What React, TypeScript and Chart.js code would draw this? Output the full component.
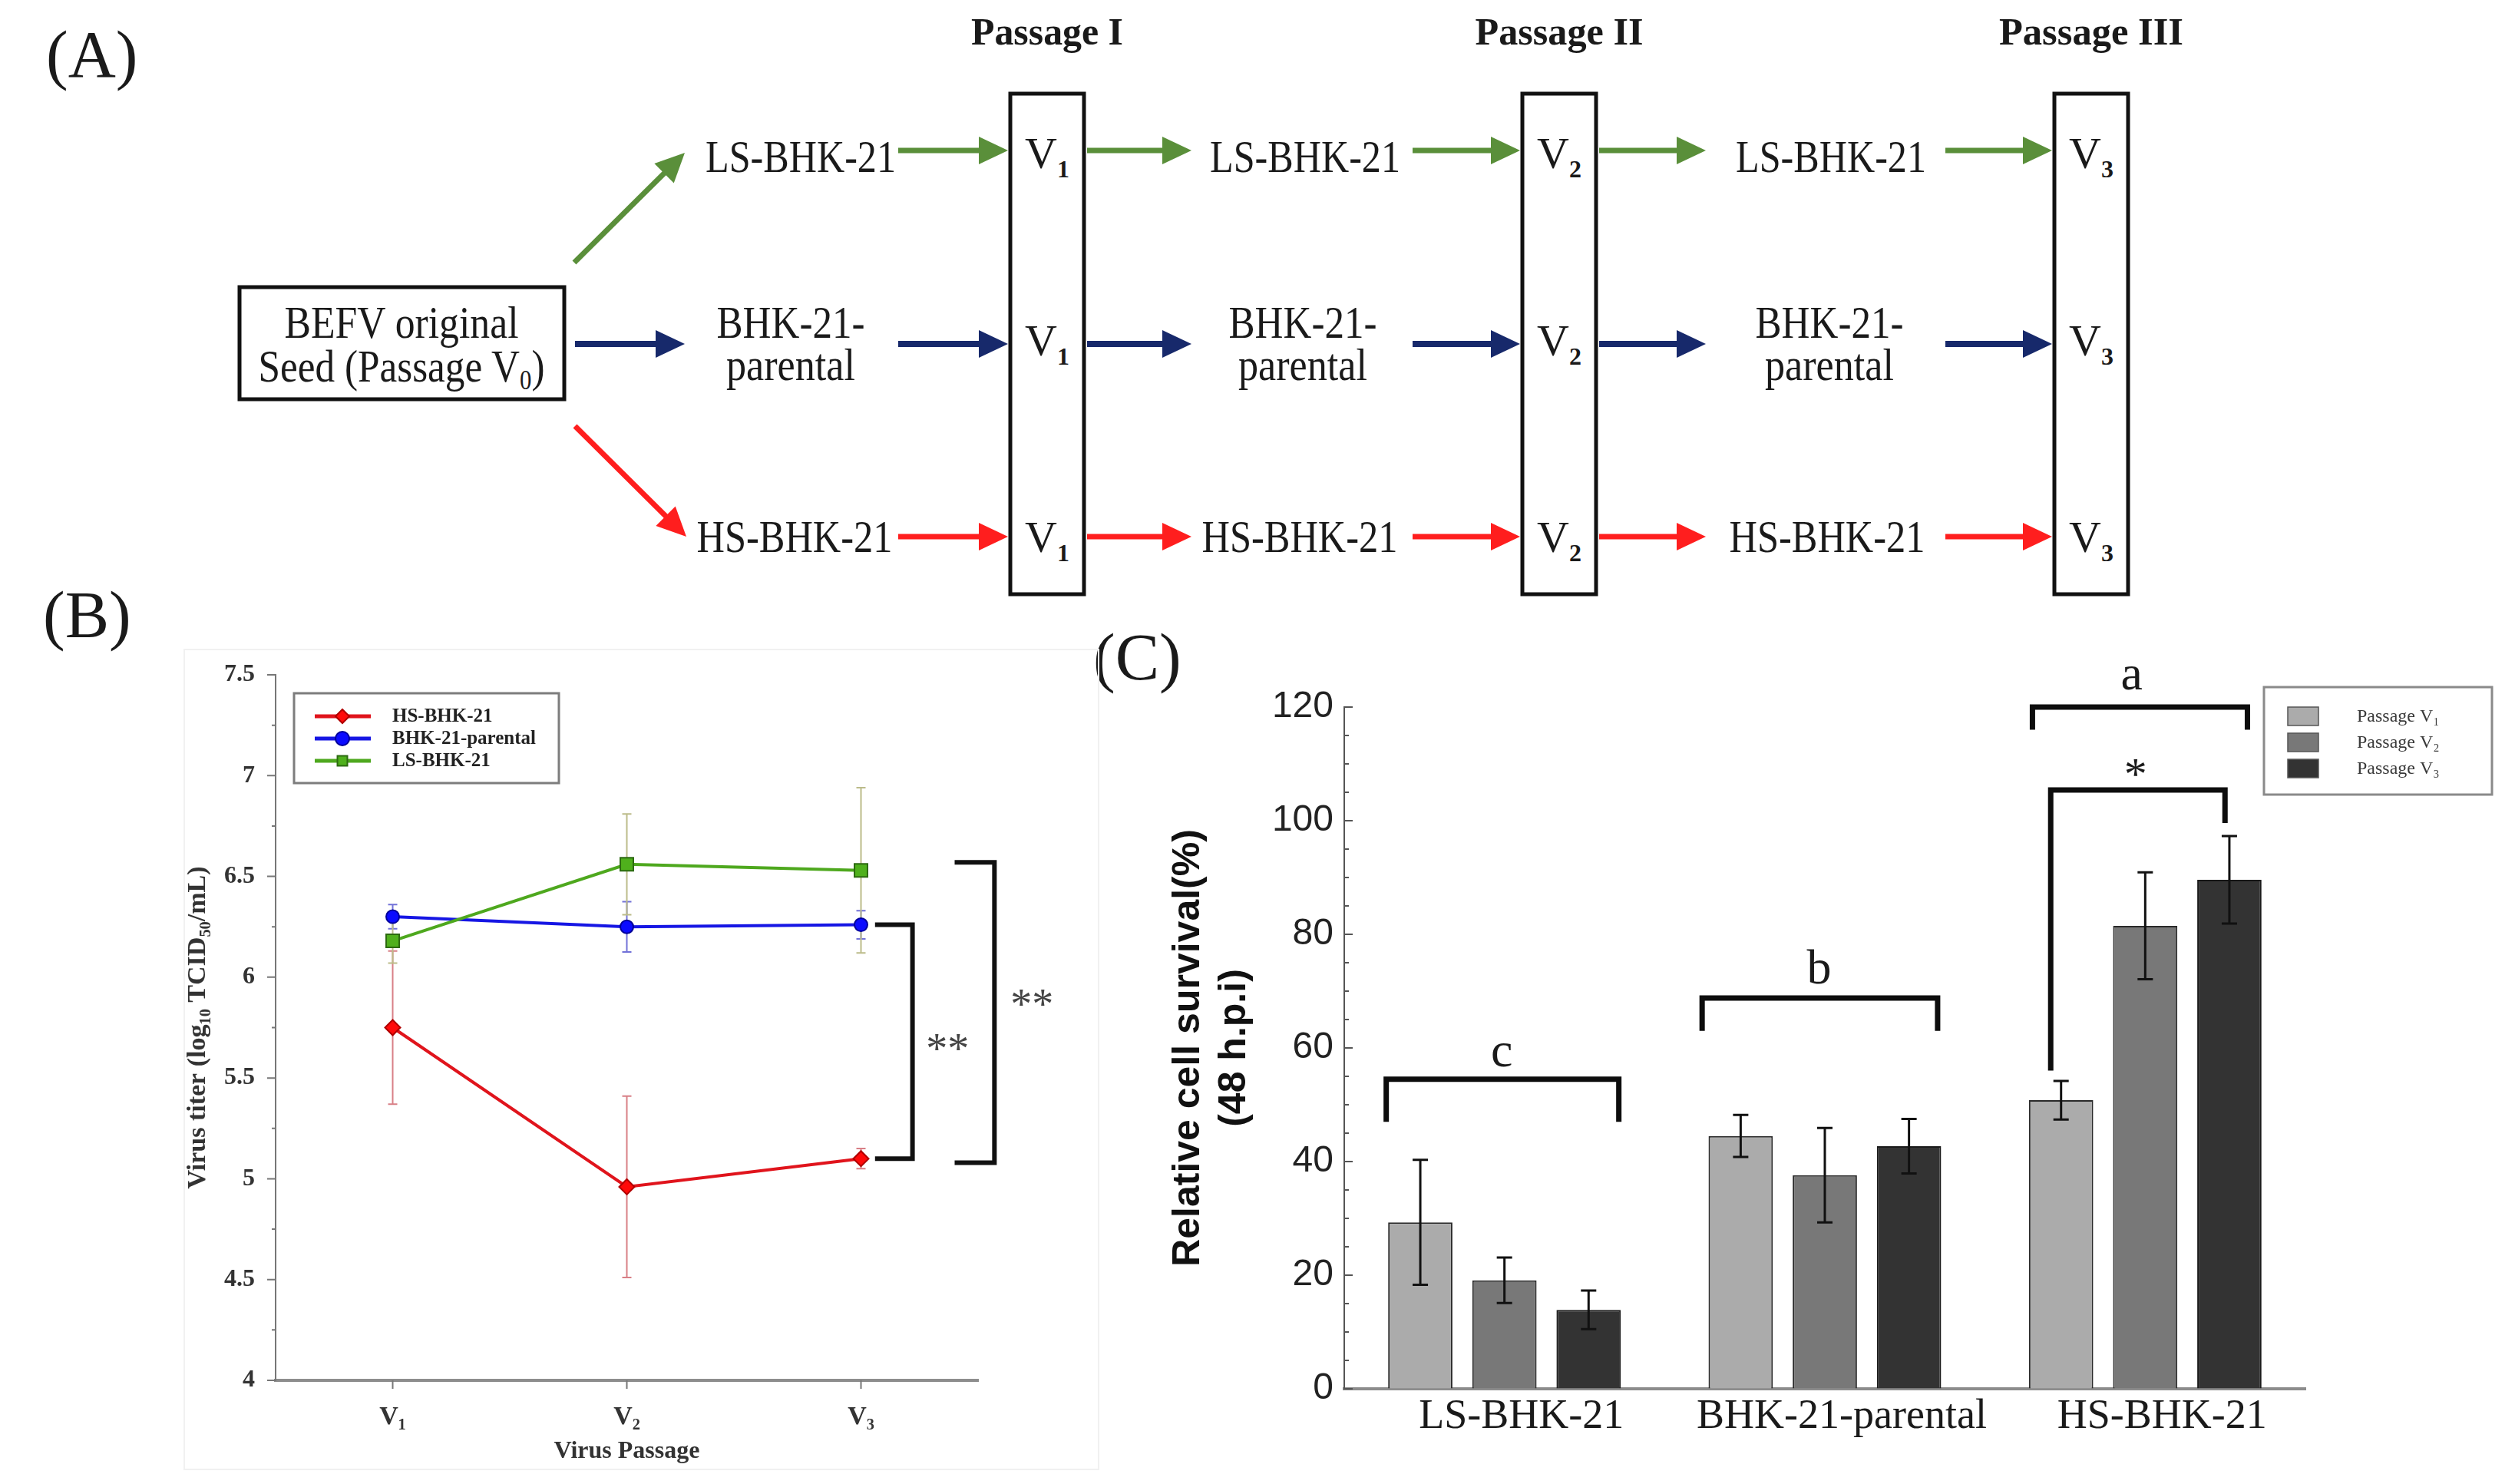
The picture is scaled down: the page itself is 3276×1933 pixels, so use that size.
import React, { useEffect, useRef } from 'react';
import { Chart, registerables } from 'chart.js';

Chart.register(...registerables);

const SERIF = '"Liberation Serif", "Times New Roman", Times, serif';
const SANS = '"Liberation Sans", Arial, Helvetica, sans-serif';

// ---------- Panel B data (virus titer, log10 TCID50/mL) ----------
const passageLabels = ['V₁', 'V₂', 'V₃'];
const titerSeriesNames = ['HS-BHK-21', 'BHK-21-parental', 'LS-BHK-21'];
const hsTiter = [5.75, 4.96, 5.1];
const hsTiterErr = [0.38, 0.45, 0.05];
const parentalTiter = [6.3, 6.25, 6.26];
const parentalTiterErr = [0.06, 0.125, 0.07];
const lsTiter = [6.18, 6.56, 6.53];
const lsTiterErr = [0.11, 0.25, 0.41];
const titerMajorTicks = [4, 4.5, 5, 5.5, 6, 6.5, 7, 7.5];

// ---------- Panel C data (relative cell survival %, 48 h.p.i) ----------
const cellLines = ['LS-BHK-21', 'BHK-21-parental', 'HS-BHK-21'];
const passageSeriesNames = ['Passage V₁', 'Passage V₂', 'Passage V₃'];
const survivalV1 = [29.3, 44.5, 50.8];
const survivalV1Err = [11.0, 3.7, 3.4];
const survivalV2 = [19.1, 37.6, 81.5];
const survivalV2Err = [4.0, 8.3, 9.4];
const survivalV3 = [13.9, 42.7, 89.6];
const survivalV3Err = [3.4, 4.8, 7.7];
const survivalMajorTicks = [0, 20, 40, 60, 80, 100, 120];

// ---------- Panel A diagram ----------
const GREEN = '#5a8f3a';
const NAVY = '#17296b';
const RED = '#ff1e1e';

function Arrow({ x1, y1, x2, y2, color, w = 7 }: any) {
  const dx = x2 - x1, dy = y2 - y1;
  const len = Math.hypot(dx, dy);
  const ux = dx / len, uy = dy / len;
  const hl = 38, hw = 18;
  const bx = x2 - ux * hl, by = y2 - uy * hl;
  const px = -uy, py = ux;
  return (
    <g>
      <line x1={x1} y1={y1} x2={bx + ux * 3} y2={by + uy * 3} stroke={color} strokeWidth={w} />
      <polygon
        points={`${x2},${y2} ${bx + px * hw},${by + py * hw} ${bx - px * hw},${by - py * hw}`}
        fill={color}
      />
    </g>
  );
}

function T({ x, y, len, size = 60, bold = false, children }: any) {
  return (
    <text
      x={x}
      y={y}
      fontFamily={SERIF}
      fontSize={size}
      fontWeight={bold ? 'bold' : 'normal'}
      textAnchor="middle"
      fill="#1a1a1a"
      {...(len ? { textLength: len, lengthAdjust: 'spacingAndGlyphs' } : {})}
    >
      {children}
    </text>
  );
}

function VLabel({ cx, y, n }: any) {
  return (
    <text x={cx} y={y} fontFamily={SERIF} fontSize={58} textAnchor="middle" fill="#1a1a1a">
      V<tspan fontSize={32} fontWeight="bold" dy={12}>{n}</tspan>
    </text>
  );
}

function Diagram() {
  const rows = [196, 448, 699];
  const boxes = [1316, 1983, 2676];
  const vBase = [219, 463, 719];
  const colors = [GREEN, NAVY, RED];
  return (
    <svg
      width={3276}
      height={1933}
      style={{ position: 'absolute', left: 0, top: 0 }}
      xmlns="http://www.w3.org/2000/svg"
    >
      <text x={60} y={100} fontFamily={SERIF} fontSize={86} fill="#1a1a1a">(A)</text>
      <text x={56} y={830} fontFamily={SERIF} fontSize={86} fill="#1a1a1a">(B)</text>
      <text x={1424} y={885} fontFamily={SERIF} fontSize={86} fill="#1a1a1a">(C)</text>

      <rect x={240} y={846} width={1191} height={1068} fill="none" stroke="#f1f1f1" strokeWidth={2} />

      <T x={1364} y={58} len={198} size={50} bold>Passage I</T>
      <T x={2031} y={58} len={219} size={50} bold>Passage II</T>
      <T x={2724} y={58} len={240} size={50} bold>Passage III</T>

      {boxes.map((bx, i) => (
        <rect key={i} x={bx} y={122} width={96} height={652} fill="none" stroke="#111" strokeWidth={5} />
      ))}
      {boxes.map((bx, i) =>
        vBase.map((vy, j) => <VLabel key={`${i}-${j}`} cx={bx + 48} y={vy} n={i + 1} />)
      )}

      <rect x={312} y={374} width={423} height={146} fill="none" stroke="#111" strokeWidth={5} />
      <T x={523} y={440} len={305}>BEFV original</T>
      <text x={523} y={497} fontFamily={SERIF} fontSize={60} textAnchor="middle" fill="#1a1a1a"
        textLength={373} lengthAdjust="spacingAndGlyphs">
        Seed (Passage V<tspan fontSize={36} dy={10}>0</tspan><tspan dy={-10}>)</tspan>
      </text>

      <Arrow x1={748} y1={342} x2={892} y2={199} color={GREEN} />
      <Arrow x1={749} y1={448} x2={892} y2={448} color={NAVY} w={8} />
      <Arrow x1={749} y1={555} x2={894} y2={699} color={RED} />

      {[
        [1043, 1030, 1035],
        [1700, 1697, 1693],
        [2385, 2383, 2380],
      ].map((c, i) => (
        <g key={i}>
          <T x={c[0]} y={224} len={248}>LS-BHK-21</T>
          <T x={c[1]} y={440} len={193}>BHK-21-</T>
          <T x={c[1]} y={495} len={168}>parental</T>
          <T x={c[2]} y={719} len={255}>HS-BHK-21</T>
        </g>
      ))}

      {rows.map((ry, j) => (
        <g key={j}>
          <Arrow x1={1170} y1={ry} x2={1313} y2={ry} color={colors[j]} w={j === 1 ? 8 : 7} />
          <Arrow x1={1416} y1={ry} x2={1552} y2={ry} color={colors[j]} w={j === 1 ? 8 : 7} />
          <Arrow x1={1840} y1={ry} x2={1980} y2={ry} color={colors[j]} w={j === 1 ? 8 : 7} />
          <Arrow x1={2083} y1={ry} x2={2222} y2={ry} color={colors[j]} w={j === 1 ? 8 : 7} />
          <Arrow x1={2534} y1={ry} x2={2673} y2={ry} color={colors[j]} w={j === 1 ? 8 : 7} />
        </g>
      ))}
    </svg>
  );
}

// ---------- helpers ----------
function drawMarker(ctx: CanvasRenderingContext2D, style: string, x: number, y: number, r: number, fill: string, stroke: string) {
  ctx.beginPath();
  if (style === 'rectRot') {
    ctx.moveTo(x, y - r); ctx.lineTo(x + r, y); ctx.lineTo(x, y + r); ctx.lineTo(x - r, y); ctx.closePath();
  } else if (style === 'rect') {
    const s = r * 0.72;
    ctx.rect(x - s, y - s, 2 * s, 2 * s);
  } else {
    ctx.arc(x, y, r, 0, Math.PI * 2);
  }
  ctx.fillStyle = fill; ctx.fill();
  ctx.strokeStyle = stroke; ctx.lineWidth = 2; ctx.stroke();
}

// ---------- Panel B ----------
function PanelB() {
  const ref = useRef<HTMLCanvasElement>(null);
  useEffect(() => {
    const canvas = ref.current!;
    const errorBars = {
      id: 'errorBarsB',
      beforeDatasetsDraw(chart: any) {
        const { ctx } = chart;
        const y = chart.scales.y;
        chart.data.datasets.forEach((ds: any, i: number) => {
          const meta = chart.getDatasetMeta(i);
          meta.data.forEach((pt: any, j: number) => {
            const v = ds.data[j], e = ds.errs[j];
            const t = y.getPixelForValue(v + e), b = y.getPixelForValue(v - e);
            ctx.save();
            ctx.strokeStyle = ds.errColor; ctx.lineWidth = 2;
            ctx.beginPath();
            ctx.moveTo(pt.x, t); ctx.lineTo(pt.x, b);
            ctx.moveTo(pt.x - 6, t); ctx.lineTo(pt.x + 6, t);
            ctx.moveTo(pt.x - 6, b); ctx.lineTo(pt.x + 6, b);
            ctx.stroke();
            ctx.restore();
          });
        });
      },
    };
    const decorations = {
      id: 'decorB',
      afterDraw(chart: any) {
        const { ctx, chartArea: ca } = chart;
        const x = chart.scales.x, y = chart.scales.y;
        ctx.save();
        // axis ticks
        ctx.strokeStyle = '#777'; ctx.lineWidth = 2;
        ctx.beginPath();
        for (let v = titerMajorTicks[0]; v <= titerMajorTicks[titerMajorTicks.length - 1] + 1e-6; v += 0.25) {
          const py = y.getPixelForValue(v);
          const major = titerMajorTicks.some((m) => Math.abs(m - v) < 1e-6);
          ctx.moveTo(y.right, py); ctx.lineTo(y.right - (major ? 11 : 5), py);
        }
        passageLabels.forEach((_, i) => {
          const px = x.getPixelForValue(i);
          ctx.moveTo(px, x.top); ctx.lineTo(px, x.top + 11);
        });
        ctx.stroke();

        // significance brackets
        ctx.strokeStyle = '#111'; ctx.lineWidth = 6; ctx.lineJoin = 'miter';
        const bracket = (x0: number, x1: number, yt: number, yb: number) => {
          const X0 = x.getPixelForValue(x0), X1 = x.getPixelForValue(x1);
          const T0 = y.getPixelForValue(yt), B0 = y.getPixelForValue(yb);
          ctx.beginPath(); ctx.moveTo(X0, T0); ctx.lineTo(X1, T0); ctx.lineTo(X1, B0); ctx.lineTo(X0, B0); ctx.stroke();
        };
        bracket(2.06, 2.22, parentalTiter[2], hsTiter[2]);
        bracket(2.40, 2.57, 6.57, 5.08);
        ctx.fillStyle = '#444'; ctx.font = `56px ${SERIF}`; ctx.textAlign = 'center'; ctx.textBaseline = 'alphabetic';
        ctx.fillText('**', x.getPixelForValue(2.37), y.getPixelForValue(5.69) + 31);
        ctx.fillText('**', x.getPixelForValue(2.73), y.getPixelForValue(5.91) + 31);

        // legend
        const lx = ca.left + 24, ly = ca.top + 24, lw = 345, lh = 117;
        ctx.strokeStyle = '#7d7d7d'; ctx.lineWidth = 3;
        ctx.strokeRect(lx, ly, lw, lh);
        chart.data.datasets.forEach((ds: any, i: number) => {
          const ry = ly + 30 + i * 29;
          ctx.strokeStyle = ds.borderColor; ctx.lineWidth = 5;
          ctx.beginPath(); ctx.moveTo(lx + 27, ry); ctx.lineTo(lx + 100, ry); ctx.stroke();
          drawMarker(ctx, ds.pointStyle, lx + 63, ry, 9, ds.pointBackgroundColor, ds.pointBorderColor);
          ctx.fillStyle = '#222'; ctx.font = `bold 25px ${SERIF}`; ctx.textAlign = 'left'; ctx.textBaseline = 'middle';
          ctx.fillText(ds.label, lx + 128, ry + 1);
        });
        ctx.restore();
      },
    };
    const chart = new Chart(canvas, {
      type: 'line',
      data: {
        labels: passageLabels,
        datasets: [
          {
            label: titerSeriesNames[0], data: hsTiter, errs: hsTiterErr, errColor: 'rgba(214,120,128,0.95)',
            borderColor: '#e0141c', borderWidth: 4, pointStyle: 'rectRot', pointRadius: 10,
            pointBackgroundColor: '#ff0a0a', pointBorderColor: '#b00000', pointBorderWidth: 2, order: 1,
          },
          {
            label: titerSeriesNames[1], data: parentalTiter, errs: parentalTiterErr, errColor: '#7272d8',
            borderColor: '#1616e4', borderWidth: 4, pointStyle: 'circle', pointRadius: 8.5,
            pointBackgroundColor: '#0b0bff', pointBorderColor: '#00009a', pointBorderWidth: 2, order: 2,
          },
          {
            label: titerSeriesNames[2], data: lsTiter, errs: lsTiterErr, errColor: '#bcbc8a',
            borderColor: '#4ea81e', borderWidth: 4, pointStyle: 'rect', pointRadius: 12,
            pointBackgroundColor: '#4fb01c', pointBorderColor: '#2c6a10', pointBorderWidth: 2, order: 0,
          },
        ] as any,
      },
      options: {
        responsive: false,
        animation: false,
        events: [],
        layout: { padding: { top: 59, right: 176, left: 0, bottom: 0 } },
        plugins: { legend: { display: false }, tooltip: { enabled: false } },
        elements: { line: { tension: 0 } },
        scales: {
          x: {
            type: 'category',
            offset: true,
            grid: { display: true, drawOnChartArea: false, drawTicks: false },
            border: { display: true, color: '#8d8d8d', width: 4 },
            ticks: { font: { family: SERIF, size: 34, weight: 'bold' }, color: '#333', padding: 28 },
            title: {
              display: true, text: 'Virus Passage', color: '#333',
              font: { family: SERIF, size: 32, weight: 'bold', lineHeight: 1.2 },
              padding: { top: 0, bottom: 20 },
            },
            afterFit: (s: any) => { s.height = 132; },
          },
          y: {
            type: 'linear',
            min: 4, max: 7.5,
            afterBuildTicks: (s: any) => { s.ticks = titerMajorTicks.map((v) => ({ value: v })); },
            grid: { display: true, drawOnChartArea: false, drawTicks: false },
            border: { display: true, color: '#777', width: 2 },
            ticks: { font: { family: SERIF, size: 32, weight: 'bold' }, color: '#333', padding: 27, callback: (v: any) => String(v) },
            title: {
              display: true, text: 'Virus titer (log₁₀ TCID₅₀/mL)', color: '#333',
              font: { family: SERIF, size: 34, weight: 'bold', lineHeight: 1.2 },
              padding: { top: 88, bottom: 0 },
            },
            afterFit: (s: any) => { s.width = 209; },
          },
        },
      } as any,
      plugins: [errorBars, decorations],
    });
    return () => chart.destroy();
  }, []);
  return <canvas ref={ref} width={1300} height={1110} style={{ position: 'absolute', left: 150, top: 820, width: 1300, height: 1110 }} />;
}

// ---------- Panel C ----------
function PanelC() {
  const ref = useRef<HTMLCanvasElement>(null);
  useEffect(() => {
    const canvas = ref.current!;
    const errorBars = {
      id: 'errorBarsC',
      afterDatasetsDraw(chart: any) {
        const { ctx } = chart;
        const y = chart.scales.y;
        chart.data.datasets.forEach((ds: any, i: number) => {
          const meta = chart.getDatasetMeta(i);
          meta.data.forEach((bar: any, j: number) => {
            const v = ds.data[j], e = ds.errs[j];
            const t = y.getPixelForValue(v + e), b = y.getPixelForValue(v - e);
            ctx.save();
            ctx.strokeStyle = '#111'; ctx.lineWidth = 3;
            ctx.beginPath();
            ctx.moveTo(bar.x, t); ctx.lineTo(bar.x, b);
            ctx.moveTo(bar.x - 10, t); ctx.lineTo(bar.x + 10, t);
            ctx.moveTo(bar.x - 10, b); ctx.lineTo(bar.x + 10, b);
            ctx.stroke();
            ctx.restore();
          });
        });
      },
    };
    const decorations = {
      id: 'decorC',
      afterDraw(chart: any) {
        const { ctx, chartArea: ca } = chart;
        const x = chart.scales.x, y = chart.scales.y;
        ctx.save();
        // inward y ticks
        ctx.strokeStyle = '#555'; ctx.lineWidth = 2;
        ctx.beginPath();
        for (let v = 0; v <= 120; v += 5) {
          const py = y.getPixelForValue(v);
          const major = survivalMajorTicks.includes(v);
          ctx.moveTo(y.right, py); ctx.lineTo(y.right + (major ? 11 : 6), py);
        }
        ctx.stroke();

        // brackets
        ctx.strokeStyle = '#0d0d0d'; ctx.lineWidth = 7; ctx.lineJoin = 'miter';
        const bracket = (x0: number, x1: number, yt: number, yl: number, yr: number) => {
          const X0 = x.getPixelForValue(x0), X1 = x.getPixelForValue(x1);
          const T0 = y.getPixelForValue(yt);
          ctx.beginPath();
          ctx.moveTo(X0, y.getPixelForValue(yl)); ctx.lineTo(X0, T0); ctx.lineTo(X1, T0); ctx.lineTo(X1, y.getPixelForValue(yr));
          ctx.stroke();
        };
        bracket(-0.369, 0.357, 54.5, 47, 47);
        bracket(0.617, 1.352, 68.8, 63, 63);
        bracket(1.648, 2.319, 120, 116, 116);
        bracket(1.705, 2.249, 105.4, 56, 99.6);
        ctx.fillStyle = '#1a1a1a'; ctx.textAlign = 'center'; ctx.textBaseline = 'alphabetic';
        ctx.font = `64px ${SERIF}`;
        ctx.fillText('c', x.getPixelForValue(-0.008), y.getPixelForValue(56.8));
        ctx.fillText('b', x.getPixelForValue(0.982), y.getPixelForValue(71.4));
        ctx.fillText('a', x.getPixelForValue(1.958), y.getPixelForValue(123.1));
        ctx.font = `60px ${SERIF}`;
        ctx.fillText('*', x.getPixelForValue(1.97), y.getPixelForValue(105.6));

        // legend
        const lx = ca.right - 54, ly = ca.top - 26, lw = 297, lh = 140;
        ctx.fillStyle = '#fff'; ctx.fillRect(lx, ly, lw, lh);
        ctx.strokeStyle = '#8a8a8a'; ctx.lineWidth = 3; ctx.strokeRect(lx, ly, lw, lh);
        chart.data.datasets.forEach((ds: any, i: number) => {
          const ry = ly + 38 + i * 34;
          ctx.fillStyle = ds.backgroundColor; ctx.fillRect(lx + 31, ry - 12, 40, 24);
          ctx.strokeStyle = '#555'; ctx.lineWidth = 1.5; ctx.strokeRect(lx + 31, ry - 12, 40, 24);
          ctx.fillStyle = '#3a3a3a'; ctx.font = `24px ${SERIF}`; ctx.textAlign = 'left'; ctx.textBaseline = 'middle';
          ctx.fillText(ds.label, lx + 121, ry + 1);
        });
        ctx.restore();
      },
    };
    const chart = new Chart(canvas, {
      type: 'bar',
      data: {
        labels: cellLines,
        datasets: [
          { label: passageSeriesNames[0], data: survivalV1, errs: survivalV1Err, backgroundColor: '#ababab', borderColor: '#2a2a2a', borderWidth: 2 },
          { label: passageSeriesNames[1], data: survivalV2, errs: survivalV2Err, backgroundColor: '#787878', borderColor: '#2a2a2a', borderWidth: 2 },
          { label: passageSeriesNames[2], data: survivalV3, errs: survivalV3Err, backgroundColor: '#333333', borderColor: '#1a1a1a', borderWidth: 2 },
        ] as any,
      },
      options: {
        responsive: false,
        animation: false,
        events: [],
        layout: { padding: { top: 121, right: 273, left: 0, bottom: 0 } },
        plugins: { legend: { display: false }, tooltip: { enabled: false } },
        datasets: { bar: { categoryPercentage: 0.788, barPercentage: 0.764 } },
        scales: {
          x: {
            grid: { display: true, drawOnChartArea: false, drawTicks: false },
            border: { display: true, color: '#8c8c8c', width: 4 },
            ticks: { font: { family: SERIF, size: 54 }, color: '#1a1a1a', padding: 4, labelOffset: 22 },
            afterFit: (s: any) => { s.height = 121; },
          },
          y: {
            min: 0, max: 120,
            afterBuildTicks: (s: any) => { s.ticks = survivalMajorTicks.map((v) => ({ value: v })); },
            grid: { display: true, drawOnChartArea: false, drawTicks: false },
            border: { display: true, color: '#555', width: 2 },
            ticks: { font: { family: SANS, size: 48 }, color: '#222', padding: 14, callback: (v: any) => String(v) },
            title: {
              display: true,
              text: ['Relative cell survival(%)', '(48 h.p.i)'],
              color: '#111',
              font: { family: SANS, size: 50, weight: 'bold', lineHeight: 1.2 },
              padding: { top: 118, bottom: 0 },
            },
            afterFit: (s: any) => { s.width = 351; },
          },
        },
      } as any,
      plugins: [errorBars, decorations],
    });
    return () => chart.destroy();
  }, []);
  return <canvas ref={ref} width={1876} height={1130} style={{ position: 'absolute', left: 1400, top: 800, width: 1876, height: 1130 }} />;
}

export default function App() {
  return (
    <div style={{ position: 'absolute', left: 0, top: 0, width: 3276, height: 1933, background: '#fff', overflow: 'hidden' }}>
      <Diagram />
      <PanelB />
      <PanelC />
    </div>
  );
}
